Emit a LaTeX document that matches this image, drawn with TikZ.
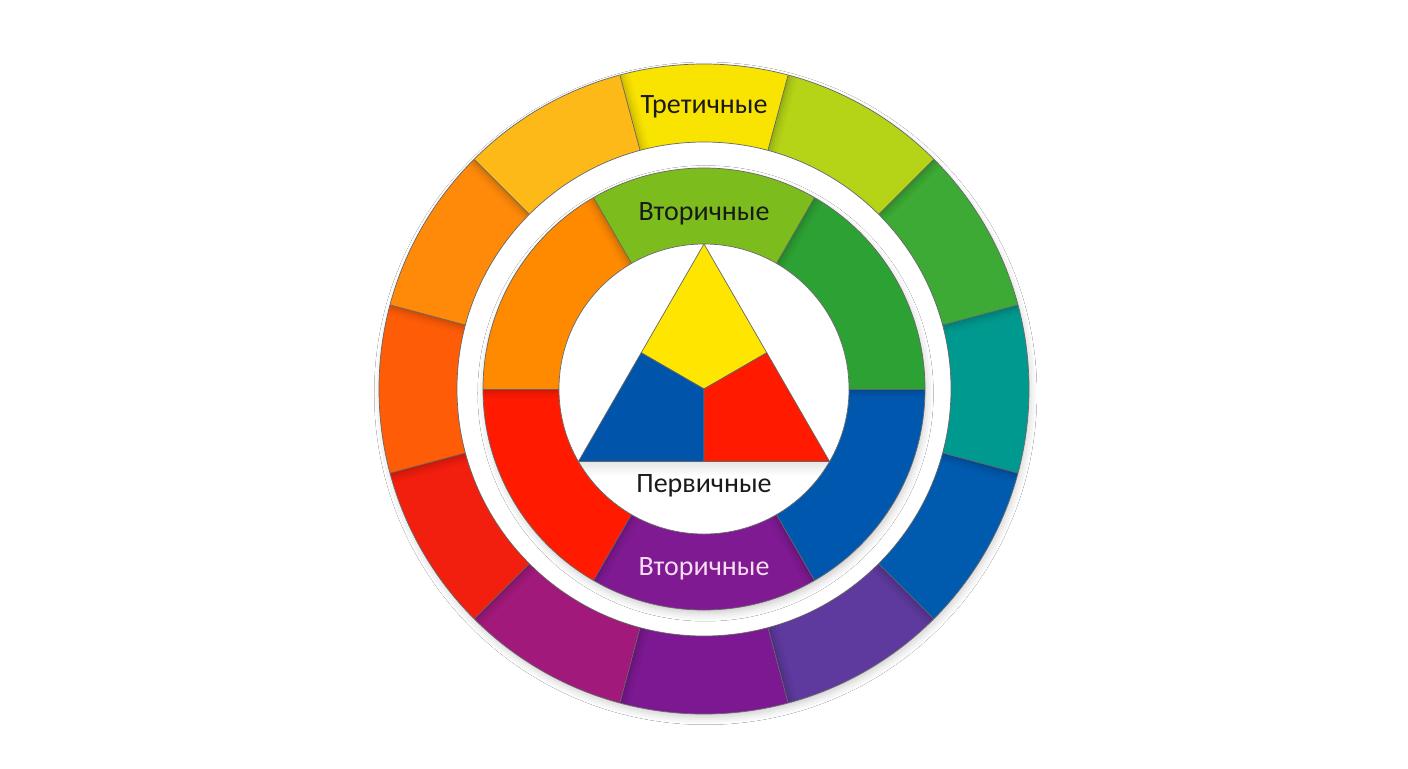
\documentclass[tikz,border=0pt]{standalone}
\usepackage{fontspec}
\setmainfont{Carlito}
\usetikzlibrary{shadows.blur,fadings,calc}
\definecolor{oYel}{HTML}{F9E300}
\definecolor{oYG}{HTML}{B6D417}
\definecolor{oGrn}{HTML}{3CAA35}
\definecolor{oTeal}{HTML}{00998F}
\definecolor{oBlu}{HTML}{005AAE}
\definecolor{oBV}{HTML}{5E3A9E}
\definecolor{oPur}{HTML}{7C1892}
\definecolor{oMag}{HTML}{A0197B}
\definecolor{oRed}{HTML}{F21E0E}
\definecolor{oOR}{HTML}{FF5C08}
\definecolor{oOra}{HTML}{FF8A0A}
\definecolor{oAmb}{HTML}{FDB917}
\definecolor{iGrn}{HTML}{2DA234}
\definecolor{iYG}{HTML}{7CBD1D}
\definecolor{iOra}{HTML}{FF8A00}
\definecolor{iRed}{HTML}{FF1A00}
\definecolor{iPur}{HTML}{7F1A93}
\definecolor{iBlu}{HTML}{0058AE}
\definecolor{tYel}{HTML}{FFE600}
\definecolor{tBlu}{HTML}{0055AA}
\definecolor{tRed}{HTML}{FF1A00}
\definecolor{txtDark}{HTML}{1A1A1A}
\definecolor{txtLight}{HTML}{F6DDF2}
\newcommand\ringseg[5]{%
  \fill[fill=#5] (#1:#3) arc[start angle=#1, end angle=#2, radius=#3]
    -- (#2:#4) arc[start angle=#2, end angle=#1, radius=#4] -- cycle;}
\newcommand\bndshade[3]{% angle, outer r, inner r
  \pgfmathsetmacro\sdir{(-0.3*sin(#1)-cos(#1))>0 ? 90 : -90}%
  \foreach \da/\db/\op in {0/2/0.16,2/4/0.11,4/6/0.07,6/8/0.04,8/10/0.02}{%
    \fill[black, opacity=\op] ($(#1:#2)+(#1+\sdir:\da)$) -- ($(#1:#3)+(#1+\sdir:\da)$)
      -- ($(#1:#3)+(#1+\sdir:\db)$) -- ($(#1:#2)+(#1+\sdir:\db)$) -- cycle;}%
  \draw[segline] (#1:#2) -- (#1:#3);}
\tikzset{
  segline/.style={draw=black!60, line width=0.35pt},
  lbl/.style={font=\fontsize{14pt}{16pt}\selectfont, inner sep=0pt, anchor=base},
  ringshadow/.style={blur shadow={shadow xshift=0.8pt, shadow yshift=-2.2pt, shadow blur radius=4pt, shadow opacity=22, shadow scale=0.995}},
}
\begin{document}
\begin{tikzpicture}[x=0.5pt,y=0.5pt]
\useasboundingbox (-704,-379) rectangle (704,389);
\fill[white] (-704,-379) rectangle (704,389);
% outer ring shadow
\fill[white, ringshadow] (0,0) circle (325);
% outer ring, 12 segments
\ringseg{75}{105}{325}{247}{oYel}
\ringseg{45}{75}{325}{247}{oYG}
\ringseg{15}{45}{325}{247}{oGrn}
\ringseg{-15}{15}{325}{247}{oTeal}
\ringseg{-45}{-15}{325}{247}{oBlu}
\ringseg{-75}{-45}{325}{247}{oBV}
\ringseg{-105}{-75}{325}{247}{oPur}
\ringseg{-135}{-105}{325}{247}{oMag}
\ringseg{-165}{-135}{325}{247}{oRed}
\ringseg{165}{195}{325}{247}{oOR}
\ringseg{135}{165}{325}{247}{oOra}
\ringseg{105}{135}{325}{247}{oAmb}
\foreach \a in {15,45,...,345}{\bndshade{\a}{324.5}{247.5}}
\draw[segline] (0,0) circle (325);
% gap
\fill[white] (0,0) circle (246.8);
\draw[segline] (0,0) circle (247);
% inner ring shadow
\fill[white, ringshadow] (0,0) circle (221);
\ringseg{0}{60}{221}{145}{iGrn}
\ringseg{60}{120}{221}{145}{iYG}
\ringseg{120}{180}{221}{145}{iOra}
\ringseg{180}{240}{221}{145}{iRed}
\ringseg{240}{300}{221}{145}{iPur}
\ringseg{300}{360}{221}{145}{iBlu}
\foreach \a in {0,60,...,300}{\bndshade{\a}{220.5}{145.5}}
\draw[segline] (0,0) circle (221);
% centre
\filldraw[fill=white, segline] (0,0) circle (145);
\coordinate (c) at (0,0);
\coordinate (ta) at (90:145);
\coordinate (tl) at (210:145);
\coordinate (tr) at (330:145);
\coordinate (ml) at (150:72.5);
\coordinate (mr) at (30:72.5);
\coordinate (mb) at (270:72.5);
\begin{scope}
\clip (0,0) circle (145);
\fill[black, opacity=0.10, path fading=south] ($(tl)+(-10,0)$) rectangle ($(tr)+(10,-14)$);
\end{scope}
\filldraw[segline, fill=tYel] (ta) -- (mr) -- (c) -- (ml) -- cycle;
\filldraw[segline, fill=tBlu] (tl) -- (ml) -- (c) -- (mb) -- cycle;
\filldraw[segline, fill=tRed] (tr) -- (mb) -- (c) -- (mr) -- cycle;
% labels
\node[lbl, text=txtDark] (tert) at (0,276) {Третичные};
\node[lbl, text=txtDark] (secTop) at (0,169) {Вторичные};
\node[lbl, text=txtLight] (secBot) at (0,-186) {Вторичные};
\node[lbl, text=txtDark] (prim) at (0,-103) {Первичные};
\end{tikzpicture}
\end{document}
